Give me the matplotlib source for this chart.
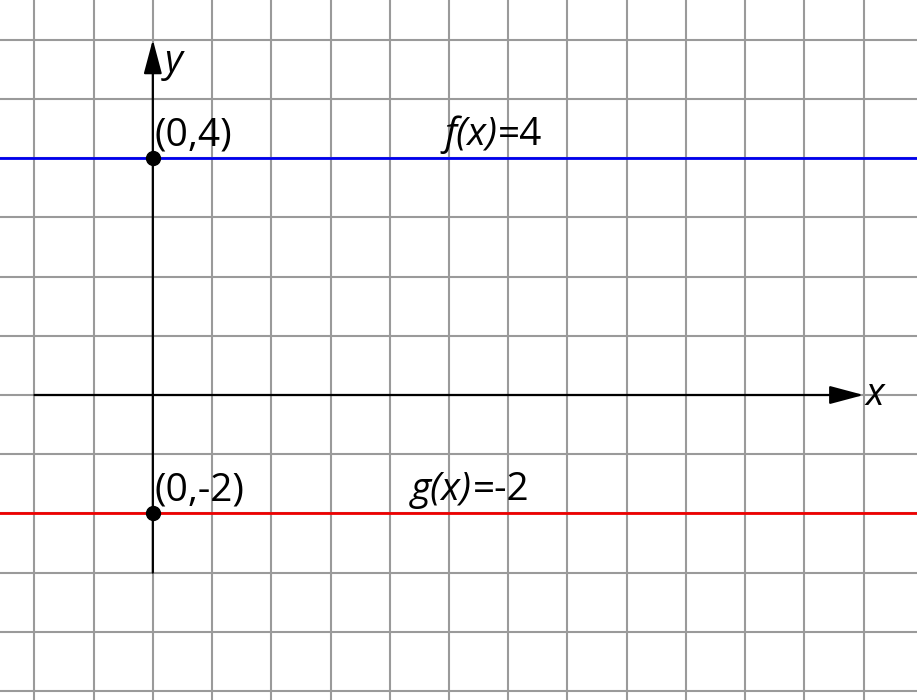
import matplotlib.pyplot as plt
from matplotlib.transforms import offset_copy

plt.rcParams["font.family"] = "Open Sans"

# data
x_range = [-2.58, 12.9]
y_range = [-5.15, 6.67]
f_value = 4
g_value = -2
points = [(0, 4), (0, -2)]
point_labels = ["(0,4)", "(0,-2)"]
func_names = ["f(x)", "g(x)"]
func_values = ["=4", "=-2"]
func_label_x = [4.92, 4.35]


def main():
    fig = plt.figure(figsize=(9.17, 7.0), dpi=100)
    ax = fig.add_axes([0, 0, 1, 1])
    ax.set_xlim(*x_range)
    ax.set_ylim(*y_range)
    ax.axis("off")

    # grid paper
    for gx in range(-3, 14):
        ax.axvline(gx, color="#9a9a9a", lw=1.5, zorder=0)
    for gy in range(-6, 8):
        ax.axhline(gy, color="#9a9a9a", lw=1.5, zorder=0)

    # axes with arrows
    arrow = dict(arrowstyle="-|>,head_length=0.75,head_width=0.2",
                 color="black", lw=1.6, mutation_scale=28, shrinkA=0, shrinkB=0)
    ax.annotate("", xy=(12, 0), xytext=(-2, 0), arrowprops=arrow)
    ax.annotate("", xy=(0, 6), xytext=(0, -3), arrowprops=arrow)
    ax.text(12.03, 0, "x", fontsize=28, style="italic", va="center", ha="left")
    ax.text(0.2, 5.62, "y", fontsize=28, style="italic", va="center", ha="left")

    # constant functions
    ax.axhline(f_value, color="#0000ee", lw=2, zorder=2)
    ax.axhline(g_value, color="#ee0000", lw=2, zorder=2)

    for (px, py), lab in zip(points, point_labels):
        ax.plot(px, py, "o", color="black", ms=10, zorder=4)
        ax.text(px + 0.03, py + 0.22, lab, fontsize=28, ha="left", va="baseline")

    renderer = fig.canvas.get_renderer()
    for fx, fy, name, val in zip(func_label_x, [f_value, g_value],
                                 func_names, func_values):
        t = ax.text(fx, fy + 0.22, name, fontsize=28, style="italic",
                    ha="left", va="baseline")
        w = t.get_window_extent(renderer).width
        tr = offset_copy(ax.transData, fig=fig, x=w + 1, y=0, units="dots")
        ax.text(fx, fy + 0.22, val, fontsize=28, ha="left", va="baseline",
                transform=tr)

    fig.savefig("out.png", dpi=100)


if __name__ == "__main__":
    main()
